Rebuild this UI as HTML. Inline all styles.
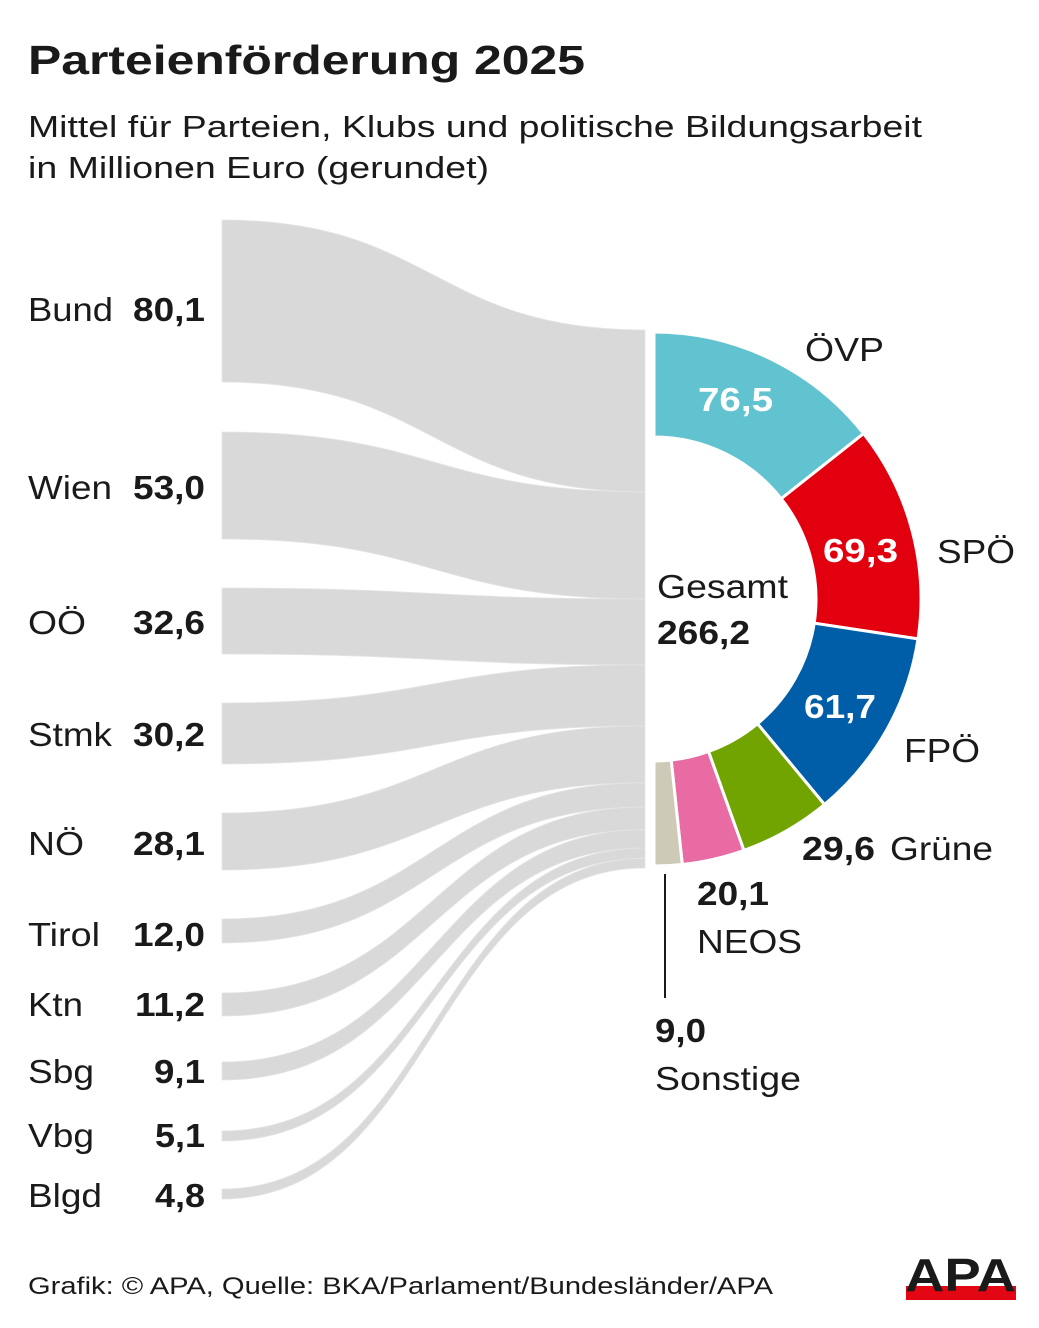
<!DOCTYPE html>
<html><head><meta charset="utf-8"><style>
html,body{margin:0;padding:0;background:#fff;}
body{width:1039px;height:1323px;overflow:hidden;font-family:"Liberation Sans",Arial,sans-serif;color:#1a1a1a;}
</style></head><body>
<svg id="s" width="1039" height="1323" viewBox="0 0 1039 1323" xmlns="http://www.w3.org/2000/svg" font-family="Liberation Sans, Arial, sans-serif" fill="#1a1a1a">
<text x="28" y="74" font-size="41" font-weight="bold" textLength="557" lengthAdjust="spacingAndGlyphs">Parteienförderung 2025</text>
<text x="28" y="137" font-size="31" textLength="894" lengthAdjust="spacingAndGlyphs">Mittel für Parteien, Klubs und politische Bildungsarbeit</text>
<text x="28" y="178" font-size="31" textLength="461" lengthAdjust="spacingAndGlyphs">in Millionen Euro (gerundet)</text>
<g id="flows"></g>
<g id="donut"></g>
<g font-size="33" lengthAdjust="spacingAndGlyphs">
<text x="28" y="321" textLength="85" lengthAdjust="spacingAndGlyphs">Bund</text><text x="133" y="321" font-weight="bold" textLength="72" lengthAdjust="spacingAndGlyphs">80,1</text>
<text x="28" y="499" textLength="84" lengthAdjust="spacingAndGlyphs">Wien</text><text x="133" y="499" font-weight="bold" textLength="72" lengthAdjust="spacingAndGlyphs">53,0</text>
<text x="28" y="634" textLength="58" lengthAdjust="spacingAndGlyphs">OÖ</text><text x="133" y="634" font-weight="bold" textLength="72" lengthAdjust="spacingAndGlyphs">32,6</text>
<text x="28" y="746" textLength="84" lengthAdjust="spacingAndGlyphs">Stmk</text><text x="133" y="746" font-weight="bold" textLength="72" lengthAdjust="spacingAndGlyphs">30,2</text>
<text x="28" y="855" textLength="56" lengthAdjust="spacingAndGlyphs">NÖ</text><text x="133" y="855" font-weight="bold" textLength="72" lengthAdjust="spacingAndGlyphs">28,1</text>
<text x="28" y="946" textLength="72" lengthAdjust="spacingAndGlyphs">Tirol</text><text x="133" y="946" font-weight="bold" textLength="72" lengthAdjust="spacingAndGlyphs">12,0</text>
<text x="28" y="1016" textLength="55" lengthAdjust="spacingAndGlyphs">Ktn</text><text x="135" y="1016" font-weight="bold" textLength="70" lengthAdjust="spacingAndGlyphs">11,2</text>
<text x="28" y="1083" textLength="66" lengthAdjust="spacingAndGlyphs">Sbg</text><text x="154" y="1083" font-weight="bold" textLength="51" lengthAdjust="spacingAndGlyphs">9,1</text>
<text x="28" y="1147" textLength="66" lengthAdjust="spacingAndGlyphs">Vbg</text><text x="155" y="1147" font-weight="bold" textLength="50" lengthAdjust="spacingAndGlyphs">5,1</text>
<text x="28" y="1207" textLength="74" lengthAdjust="spacingAndGlyphs">Blgd</text><text x="155" y="1207" font-weight="bold" textLength="50" lengthAdjust="spacingAndGlyphs">4,8</text>
</g>
<g font-size="33">
<text x="698" y="411" font-weight="bold" fill="#fff" textLength="75" lengthAdjust="spacingAndGlyphs">76,5</text>
<text x="823" y="562" font-weight="bold" fill="#fff" textLength="75" lengthAdjust="spacingAndGlyphs">69,3</text>
<text x="804" y="718" font-weight="bold" fill="#fff" textLength="72" lengthAdjust="spacingAndGlyphs">61,7</text>
<text x="805" y="361" textLength="79" lengthAdjust="spacingAndGlyphs">ÖVP</text>
<text x="937" y="563" textLength="78" lengthAdjust="spacingAndGlyphs">SPÖ</text>
<text x="904" y="762" textLength="76" lengthAdjust="spacingAndGlyphs">FPÖ</text>
<text x="802" y="860" font-weight="bold" textLength="73" lengthAdjust="spacingAndGlyphs">29,6</text><text x="890" y="860" textLength="103" lengthAdjust="spacingAndGlyphs">Grüne</text>
<text x="697" y="905" font-weight="bold" textLength="72" lengthAdjust="spacingAndGlyphs">20,1</text><text x="697" y="953" textLength="105" lengthAdjust="spacingAndGlyphs">NEOS</text>
<text x="655" y="1042" font-weight="bold" textLength="51" lengthAdjust="spacingAndGlyphs">9,0</text><text x="655" y="1090" textLength="146" lengthAdjust="spacingAndGlyphs">Sonstige</text>
<text x="657" y="598" textLength="131" lengthAdjust="spacingAndGlyphs">Gesamt</text><text x="657" y="644" font-weight="bold" textLength="93" lengthAdjust="spacingAndGlyphs">266,2</text>
</g>
<line x1="665" y1="874" x2="665" y2="998" stroke="#1a1a1a" stroke-width="2"/>
<text x="28" y="1294" font-size="24" textLength="745" lengthAdjust="spacingAndGlyphs">Grafik: © APA, Quelle: BKA/Parlament/Bundesländer/APA</text>
<rect x="906" y="1286" width="110" height="14" fill="#e30613"/>
<text x="905" y="1291" font-size="46" font-weight="bold" textLength="111" lengthAdjust="spacingAndGlyphs">APA</text>
</svg>
<script>
var ns="http://www.w3.org/2000/svg";
var L=[[220,382],[432,539],[588,654],[703,764],[813,870],[919,943],[993,1016],[1062,1080],[1131,1141],[1189,1199]];
var V=[80.1,53.0,32.6,30.2,28.1,12.0,11.2,9.1,5.1,4.8];
var k=538/266.2,y=330,g=document.getElementById('flows');
var x0=222,x1=645,cx=(x0+x1)/2;
for(var i=0;i<L.length;i++){var h=V[i]*k,a=y,b=y+h;y=b;
var p=document.createElementNS(ns,'path');
p.setAttribute('d','M'+x0+' '+L[i][0]+' C'+cx+' '+L[i][0]+' '+cx+' '+a+' '+x1+' '+a+' L'+x1+' '+b+' C'+cx+' '+b+' '+cx+' '+L[i][1]+' '+x0+' '+L[i][1]+' Z');
p.setAttribute('fill','#d9d9d9');p.setAttribute('stroke','#e4e4e4');p.setAttribute('stroke-width','0.8');g.appendChild(p);}
var D=[[76.5,'#62c3d0'],[69.3,'#e2000f'],[61.7,'#005ea8'],[29.6,'#72a400'],[20.1,'#e96ba3'],[9.0,'#cfc9b8']];
var ox=654,oy=599,R=267,r=162,t=0,d=document.getElementById('donut');
function pt(rr,th){return (ox+rr*Math.sin(th)).toFixed(1)+' '+(oy-rr*Math.cos(th)).toFixed(1);}
for(var j=0;j<D.length;j++){var t0=t,t1=t+D[j][0]/266.2*Math.PI;t=t1;
var p=document.createElementNS(ns,'path');
p.setAttribute('d','M'+pt(R,t0)+' A'+R+' '+R+' 0 0 1 '+pt(R,t1)+' L'+pt(r,t1)+' A'+r+' '+r+' 0 0 0 '+pt(r,t0)+' Z');
p.setAttribute('fill',D[j][1]);p.setAttribute('stroke','#fff');p.setAttribute('stroke-width','3');d.appendChild(p);}
</script>
</body></html>
